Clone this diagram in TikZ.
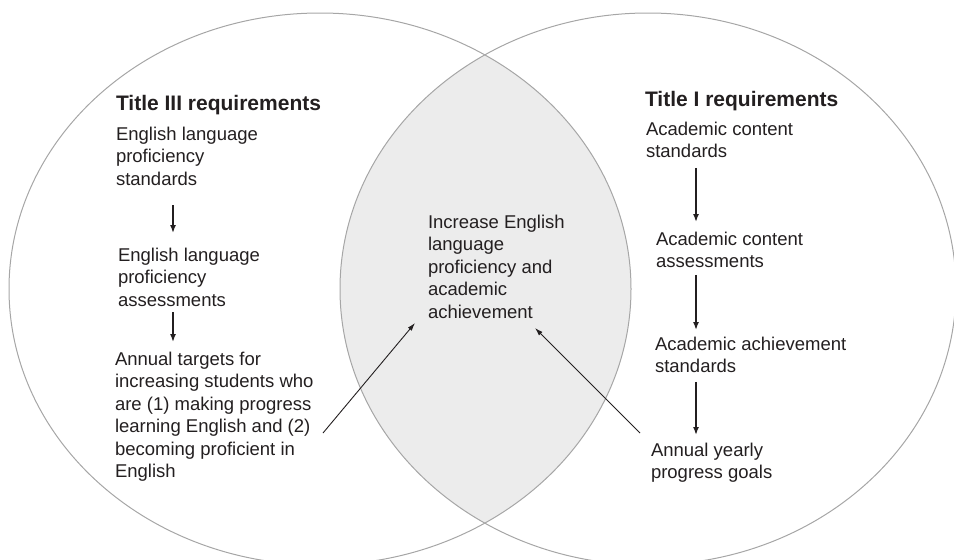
\documentclass[tikz,border=0pt]{standalone}
\usepackage{fontspec}
\setmainfont{Liberation Sans}
\usetikzlibrary{arrows.meta}
\definecolor{txt}{HTML}{231F20}
\definecolor{lensfill}{HTML}{ECECEC}
\definecolor{ringgray}{HTML}{A6A6A6}
\tikzset{
  body/.style={inner sep=0pt, outer sep=0pt, anchor=north west, align=left, text=txt,
    font={\fontsize{18.5}{22.4}\selectfont}},
  titletext/.style={inner sep=0pt, outer sep=0pt, anchor=north west, text=txt,
    font={\fontsize{21}{25}\selectfont\bfseries}},
  ring/.style={draw=ringgray, line width=1pt},
  varr/.style={draw=txt, line width=1.5pt, -{Latex[length=8pt,width=6pt]}},
  darr/.style={draw=txt, line width=0.9pt, -{Latex[length=8pt,width=5pt]}}
}
\begin{document}
\begin{tikzpicture}[x=1pt,y=-1pt]
\useasboundingbox (0,0) rectangle (954,560);
% lens
\begin{scope}
  \clip (320,289) ellipse [x radius=311pt, y radius=276pt];
  \fill[lensfill] (648,289) ellipse [x radius=308pt, y radius=276pt];
\end{scope}
\draw[ring] (320,289) ellipse [x radius=311pt, y radius=276pt];
\draw[ring] (648,289) ellipse [x radius=308pt, y radius=276pt];

% left column
\node[titletext] (tL) at (116,95) {Title III requirements};
\node[body] (l1) at (116,127) {English language\\proficiency\\standards};
\node[body] (l2) at (118,248) {English language\\proficiency\\assessments};
\node[body] (l3) at (115,352) {Annual targets for\\increasing students who\\are (1) making progress\\learning English and (2)\\becoming proficient in\\English};

% centre
\node[body] (c) at (428,215) {Increase English\\language\\proficiency and\\academic\\achievement};

% right column
\node[titletext] (tR) at (645,91) {Title I requirements};
\node[body] (r1) at (646,122) {Academic content\\standards};
\node[body] (r2) at (656,232) {Academic content\\assessments};
\node[body] (r3) at (655,337) {Academic achievement\\standards};
\node[body] (r4) at (651,443) {Annual yearly\\progress goals};

% vertical arrows
\draw[varr] ([shift={(57,20)}]l1.south west) -- ([shift={(55,-15)}]l2.north west);
\draw[varr] ([shift={(55,6)}]l2.south west) -- ([shift={(58,-10)}]l3.north west);
\draw[varr] ([shift={(50,10)}]r1.south west) -- ([shift={(40,-10)}]r2.north west);
\draw[varr] ([shift={(40,7)}]r2.south west) -- ([shift={(41,-7)}]r3.north west);
\draw[varr] ([shift={(41,9)}]r3.south west) -- ([shift={(45,-8)}]r4.north west);

% diagonal arrows
\draw[darr] ([shift={(208,81)}]l3.north west) -- ([shift={(-13,108)}]c.north west);
\draw[darr] ([shift={(-11,-10)}]r4.north west) -- ([shift={(107,113)}]c.north west);
\end{tikzpicture}
\end{document}
